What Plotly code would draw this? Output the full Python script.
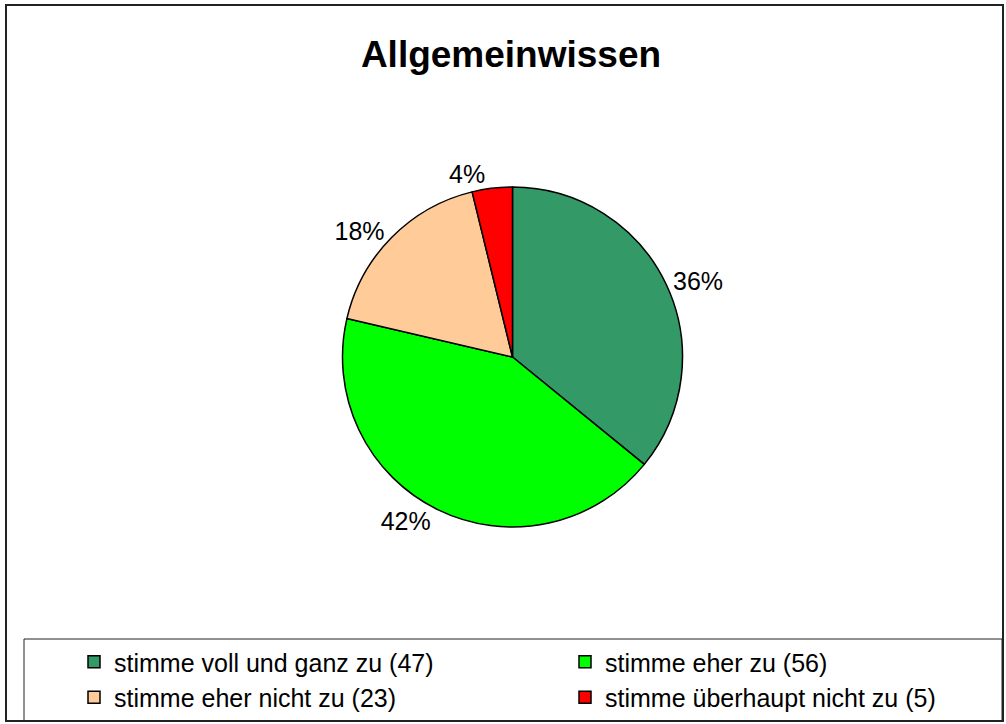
import plotly.graph_objects as go

W, H = 1006, 724

labels = ["stimme voll und ganz zu (47)", "stimme eher zu (56)",
          "stimme eher nicht zu (23)", "stimme überhaupt nicht zu (5)"]
counts = [47, 56, 23, 5]
pct_labels = ["36%", "42%", "18%", "4%"]
colors = ["#339966", "#00FF00", "#FFCC99", "#FF0000"]

FONT = "Arial, Liberation Sans, sans-serif"

def px(x):
    return x / W

def py(y):
    return 1 - y / H

fig = go.Figure(
    go.Pie(
        labels=labels, values=counts, text=pct_labels,
        textinfo="text", textposition="outside",
        textfont=dict(family=FONT, size=25, color="black"),
        marker=dict(colors=colors, line=dict(color="black", width=1.5)),
        sort=False, direction="clockwise", rotation=0,
        domain=dict(x=[px(342), px(683)], y=[py(527), py(187)]),
        hoverinfo="label+percent",
    )
)

fig.update_layout(
    width=W, height=H,
    margin=dict(l=0, r=0, t=0, b=0),
    paper_bgcolor="white", plot_bgcolor="white",
    font=dict(family=FONT, color="black"),
    title=dict(text="<b>Allgemeinwissen</b>", x=px(511), xanchor="center",
               y=py(54), yanchor="middle", font=dict(size=37, family=FONT)),
    # two columns: indentation pushes the entries right instead of moving x
    legend=dict(
        orientation="h", x=0, y=py(639), xanchor="left", yanchor="top",
        indentation=74, entrywidth=372, entrywidthmode="pixels",
        font=dict(size=25, family=FONT), bgcolor="rgba(0,0,0,0)",
        traceorder="normal",
    ),
    shapes=[
        dict(type="rect", xref="paper", yref="paper",
             x0=px(6), x1=px(1003), y0=py(721), y1=py(5),
             line=dict(color="#222222", width=2)),
        dict(type="rect", xref="paper", yref="paper",
             x0=px(24), x1=px(1002), y0=py(721), y1=py(639),
             line=dict(color="#222222", width=1)),
    ],
)

fig.write_html("out.html", config={"displayModeBar": False},
               post_script="document.body.style.margin='0';")
